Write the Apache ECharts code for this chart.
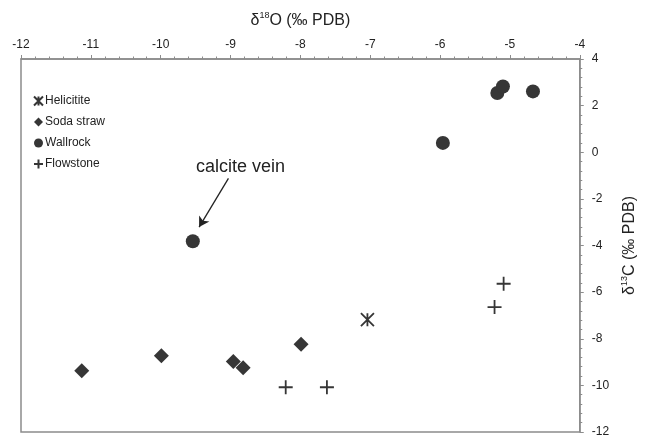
<!DOCTYPE html>
<html><head><meta charset="utf-8">
<script src="https://cdn.jsdelivr.net/npm/echarts@6/dist/echarts.min.js"></script>
<style>html,body{margin:0;padding:0;background:#fff}#c{width:646px;height:438px}</style>
</head><body><div id="c"></div>
<script>
const xTicks = [-12, -4, 1];   // min, max, interval
const yTicks = [-12, 4, 2];
const helicitite = [[-7.04, -7.18]];
const sodaStraw = [[-11.13, -9.37], [-9.99, -8.73], [-8.96, -8.98], [-8.82, -9.24], [-7.99, -8.24]];
const wallrock = [[-9.54, -3.82], [-5.96, 0.40], [-5.18, 2.54], [-5.10, 2.82], [-4.67, 2.61]];
const flowstone = [[-8.21, -10.08], [-7.62, -10.08], [-5.22, -6.64], [-5.09, -5.64]];
const arrowFrom = [-9.03, -1.12];
const arrowTo = [-9.45, -3.21];

const col = '#363636';
const axisCol = '#8c8c8c';
const font = 'Liberation Sans, Arial, sans-serif';
const chart = echarts.init(document.getElementById('c'), null, {renderer: 'canvas'});

const plusPath = 'path://M7,0L7,14M0,7L14,7';
const starPath = 'path://M0,0L14,14M14,0L0,14M7,0L7,14';

const axisCommon = {
  axisLine: {show: true, onZero: false, lineStyle: {color: axisCol, width: 1.5}},
  axisTick: {show: true, inside: false, length: 4, lineStyle: {color: axisCol}},
  minorTick: {show: true, splitNumber: 5, length: 2.5, lineStyle: {color: axisCol}},
  splitLine: {show: false},
  axisLabel: {color: '#222', fontSize: 12, fontFamily: font}
};
const nameRich = {
  t: {fontSize: 16, color: '#222', fontFamily: font, lineHeight: 20},
  sup: {fontSize: 9, color: '#222', fontFamily: font, verticalAlign: 'top', lineHeight: 10}
};

chart.setOption({
  animation: false,
  textStyle: {fontFamily: font},
  grid: {left: 21, right: 60, top: 59, bottom: 4, show: true, borderColor: axisCol, borderWidth: 1.5, containLabel: false},
  xAxis: Object.assign({}, axisCommon, {
    type: 'value', position: 'top', min: xTicks[0], max: xTicks[1], interval: xTicks[2],
    name: '{t|δ}{sup|18}{t|O (‰ PDB)}', nameLocation: 'middle', nameGap: 28,
    nameTextStyle: {rich: nameRich},
    axisLabel: {color: '#222', fontSize: 12, fontFamily: font, margin: 8}
  }),
  yAxis: Object.assign({}, axisCommon, {
    type: 'value', position: 'right', min: yTicks[0], max: yTicks[1], interval: yTicks[2],
    name: '{t|δ}{sup|13}{t|C (‰ PDB)}', nameLocation: 'middle', nameGap: 26, nameRotate: 90,
    nameTextStyle: {rich: nameRich},
    axisLabel: {color: '#222', fontSize: 12, fontFamily: font, margin: 12}
  }),
  legend: {
    orient: 'vertical', left: 28, top: 90, itemWidth: 9, itemHeight: 9, itemGap: 9,
    textStyle: {color: '#222', fontSize: 12, fontFamily: font, padding: [0, 0, 0, -3]},
    data: ['Helicitite', 'Soda straw', 'Wallrock', 'Flowstone']
  },
  series: [
    {name: 'Helicitite', type: 'scatter', data: helicitite, symbol: starPath, symbolSize: 13,
     itemStyle: {color: 'rgba(0,0,0,0)', borderColor: col, borderWidth: 1.8, opacity: 1}},
    {name: 'Soda straw', type: 'scatter', data: sodaStraw, symbol: 'diamond', symbolSize: 15,
     itemStyle: {color: col, opacity: 1}},
    {name: 'Wallrock', type: 'scatter', data: wallrock, symbol: 'circle', symbolSize: 14,
     itemStyle: {color: col, opacity: 1},
     markLine: {silent: true, symbol: ['none', 'arrow'], symbolSize: [9, 10],
       lineStyle: {color: '#222', width: 1.3, type: 'solid'}, label: {show: false},
       data: [[{coord: arrowFrom}, {coord: arrowTo}]]}},
    {name: 'Flowstone', type: 'scatter', data: flowstone, symbol: plusPath, symbolSize: 14,
     itemStyle: {color: 'rgba(0,0,0,0)', borderColor: col, borderWidth: 1.8, opacity: 1}}
  ],
  graphic: [
    {type: 'text', left: 196, top: 158, style: {text: 'calcite vein', fill: '#222', font: '18px ' + font}}
  ]
});
</script></body></html>
